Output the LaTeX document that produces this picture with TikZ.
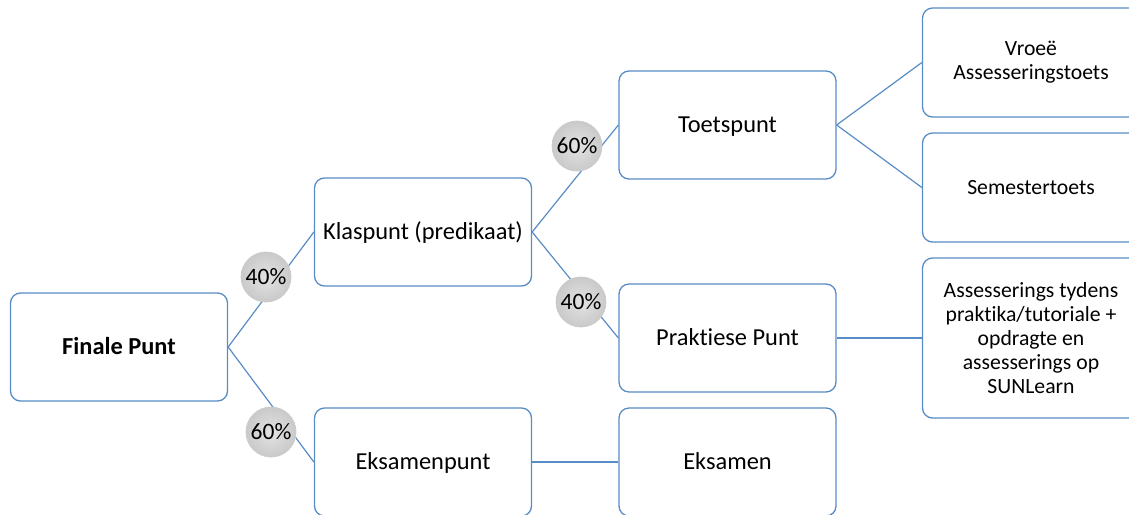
\documentclass[tikz,border=0pt]{standalone}
\usepackage{fontspec}
\setmainfont[Ligatures=CommonOff]{Carlito}
\definecolor{boxblue}{RGB}{88,140,198}
\begin{document}
\begin{tikzpicture}[x=1pt,y=-1pt,
  box/.style={draw=boxblue, line width=1.3pt, rounded corners=10pt,
    minimum width=217pt, minimum height=108pt, align=center, fill=white,
    inner sep=0pt, font=\fontsize{24.4}{29}\selectfont},
  onebox/.style={box, text height=18pt, text depth=2.6pt},
  sbox/.style={box, font=\fontsize{21.7}{24}\selectfont},
  pct/.style={circle, minimum size=50pt, inner sep=0pt, draw=gray!40,
    line width=0.8pt, shading=radial, inner color=gray!22, outer color=gray!42,
    font=\fontsize{23.5}{24}\selectfont},
  conn/.style={draw=boxblue, line width=1.2pt}]
\useasboundingbox (0,0) rectangle (1129,514);
\clip (0,0) rectangle (1129,514);
% boxes
\node[onebox, font=\fontsize{24.4}{29}\selectfont\bfseries] (fin) at (119,347) {Finale Punt};
\node[onebox] (klas) at (423,232) {Klaspunt (predikaat)};
\node[onebox] (eksp) at (423,462) {Eksamenpunt};
\node[onebox] (toets) at (727.5,125) {Toetspunt};
\node[onebox] (prak) at (727.5,338) {Praktiese Punt};
\node[onebox] (eks) at (727.5,462) {Eksamen};
\node[sbox, minimum height=109pt] (vroee) at (1031,62.5) {Vroeë\\Assesseringstoets};
\node[sbox, minimum height=109pt] (sem) at (1031,187.5) {Semestertoets};
\node[sbox, minimum height=160pt] (ass) at (1031,338) {Assesserings tydens\\praktika/tutoriale +\\opdragte en\\assesserings op\\SUNLearn};
% connectors
\draw[conn] (fin.east) -- (klas.west);
\draw[conn] (fin.east) -- (eksp.west);
\draw[conn] (klas.east) -- (toets.west);
\draw[conn] (klas.east) -- (prak.west);
\draw[conn] (eksp.east) -- (eks.west);
\draw[conn] (toets.east) -- (vroee.west);
\draw[conn] (toets.east) -- (sem.west);
\draw[conn] (prak.east) -- (ass.west);
% percentage circles
\node[pct] (p1) at (266,277) {40\%};
\node[pct] (p2) at (271,432) {60\%};
\node[pct] (p3) at (577,146) {60\%};
\node[pct] (p4) at (581,302) {40\%};
\end{tikzpicture}
\end{document}
